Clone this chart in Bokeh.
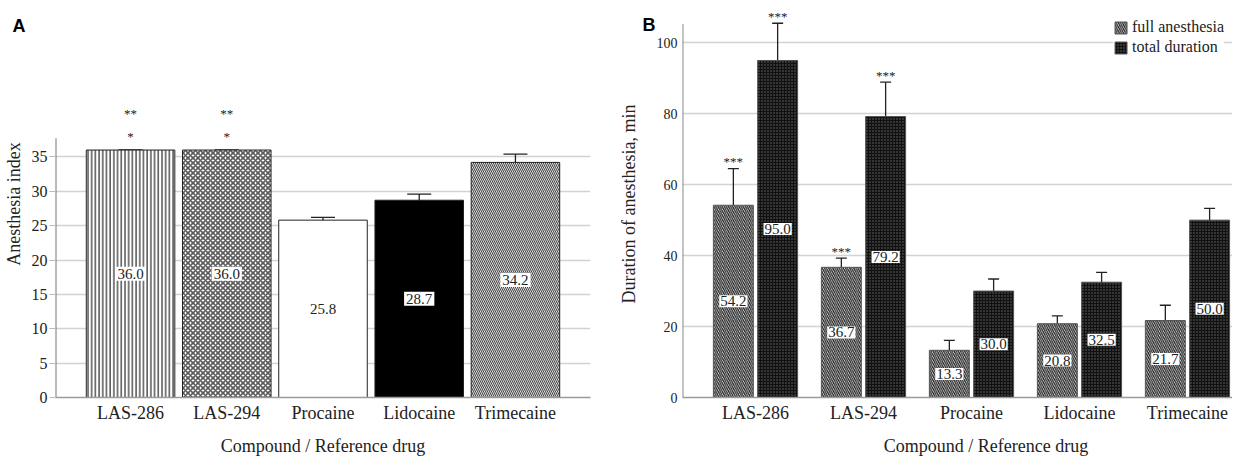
from bokeh.plotting import figure
from bokeh.models import (ColumnDataSource, FixedTicker, Whisker, TeeHead, LinearAxis,
                          Legend, LegendItem, Range1d)
from bokeh.layouts import row
from bokeh.embed import file_html
from bokeh.resources import INLINE
from bokeh.core.properties import value

# ---------------- data ----------------
compounds = ["LAS-286", "LAS-294", "Procaine", "Lidocaine", "Trimecaine"]

index_values = [36.0, 36.0, 25.8, 28.7, 34.2]
index_errors = [0.0, 0.0, 0.4, 0.9, 1.2]
index_stars_top = ["**", "**", "", "", ""]
index_stars_low = ["*", "*", "", "", ""]

full_values = [54.2, 36.7, 13.3, 20.8, 21.7]
full_errors = [10.3, 2.6, 2.8, 2.2, 4.3]
full_stars = ["***", "***", "", "", ""]

total_values = [95.0, 79.2, 30.0, 32.5, 50.0]
total_errors = [10.5, 9.7, 3.4, 2.8, 3.3]
total_stars = ["***", "***", "", "", ""]

y_ticks_a = [0, 5, 10, 15, 20, 25, 30, 35]
y_ticks_b = [0, 20, 40, 60, 80, 100]

series_names = ["full anesthesia", "total duration"]
x_title = "Compound / Reference drug"
y_title_a = "Anesthesia index"
y_title_b = "Duration of anesthesia, min"
panel_letters = ["A", "B"]

# ---------------- styles ----------------
a_fills = ["white", "white", "white", "black", "white"]
a_hatches = ["vertical_line", "diagonal_cross", "blank", "blank", "left_diagonal_line"]
a_hatch_colors = ["black", "#5a5a5a", "black", "black", "#444444"]
a_hatch_scales = [3.7, 5.0, 4.0, 4.0, 4.0]
a_hatch_weights = [1.0, 1.6, 1.0, 1.0, 1.1]

SERIF = "Liberation Serif"
SANS = "Liberation Sans"
GRID = "#d2d2d2"
H = 458
TOP = 10
BOTTOM = 60


def style_common(p, y_ticks, ytick_size):
    p.background_fill_color = "white"
    p.border_fill_color = "white"
    p.outline_line_color = None
    p.xgrid.grid_line_color = None
    p.ygrid.grid_line_color = GRID
    p.ygrid.grid_line_width = 1.5
    p.yaxis.ticker = FixedTicker(ticks=y_ticks)
    p.ygrid.ticker = FixedTicker(ticks=y_ticks)
    p.xaxis.ticker = FixedTicker(ticks=list(range(len(compounds))))
    p.xaxis.major_label_overrides = {i: c for i, c in enumerate(compounds)}
    for ax in (p.xaxis[0], p.yaxis[0]):
        ax.minor_tick_line_color = None
        ax.minor_tick_out = 0
        ax.axis_label_text_font = SERIF
        ax.axis_label_text_font_style = "normal"
        ax.axis_label_text_font_size = "18px"
        ax.axis_label_text_color = "#222222"
        ax.major_label_text_font = SERIF
        ax.major_label_text_color = "#222222"
    p.xaxis.major_label_text_font_size = "18px"
    p.yaxis.major_label_text_font_size = ytick_size
    p.xaxis.major_tick_line_color = None
    p.xaxis.major_tick_out = 0
    p.xaxis.major_tick_in = 0
    p.xaxis.axis_line_color = "#9a9a9a"
    p.xaxis.axis_line_width = 1.5
    p.xaxis.major_label_standoff = 5
    p.yaxis.axis_line_color = None


def text_axis(tick, text, font, size, style, standoff, color="#222222"):
    """An axis without line or ticks that only carries one text (title / panel letter)."""
    return LinearAxis(ticker=FixedTicker(ticks=[tick]),
                      major_label_overrides={tick: text},
                      axis_line_color=None, major_tick_line_color=None,
                      minor_tick_line_color=None, major_tick_out=0, major_tick_in=0,
                      minor_tick_out=0, minor_tick_in=0,
                      major_label_standoff=standoff, major_label_text_font=font,
                      major_label_text_font_style=style, major_label_text_font_size=size,
                      major_label_text_color=color)


# ---------------- panel A ----------------
xa0, xa1 = -0.78, 4.78
pa = figure(width=613, height=H, x_range=Range1d(xa0, xa1), y_range=Range1d(0, 56.3),
            output_backend="svg", toolbar_location=None,
            min_border_left=54, min_border_right=23, min_border_top=TOP,
            min_border_bottom=BOTTOM)
style_common(pa, y_ticks_a, "16px")
pa.xaxis.axis_label = x_title
pa.xaxis.axis_label_standoff = 10
pa.yaxis.axis_label = y_title_a
pa.yaxis.axis_label_standoff = 5
pa.yaxis.major_tick_out = 6
pa.yaxis.major_tick_in = 0
pa.yaxis.major_tick_line_color = "#bbbbbb"
pa.yaxis.major_label_standoff = 2
pa.add_layout(text_axis(54, panel_letters[0], SANS, "18px", "bold", -25, "black"), "left")

src_a = ColumnDataSource(dict(
    x=list(range(len(compounds))),
    top=index_values,
    upper=[v + e for v, e in zip(index_values, index_errors)],
    lower=[v - e for v, e in zip(index_values, index_errors)],
    mid=[v / 2 for v in index_values],
    label=[f"{v:.1f}" for v in index_values],
    stars_top=index_stars_top,
    stars_low=index_stars_low,
    fill=a_fills, hatch=a_hatches, hcolor=a_hatch_colors,
    hscale=a_hatch_scales, hweight=a_hatch_weights,
))

pa.segment(x0=[xa0], y0=[0], x1=[xa0], y1=[37.7], line_color="#777777", line_width=2)
pa.vbar(x="x", top="top", width=0.92, source=src_a, fill_color="fill",
        hatch_pattern="hatch", hatch_color="hcolor", hatch_scale="hscale",
        hatch_weight="hweight", line_color="#222222", line_width=1)
pa.add_layout(Whisker(source=src_a, base="x", upper="upper", lower="lower",
                      line_color="#222222", line_width=1.3,
                      upper_head=TeeHead(size=24, line_color="#222222", line_width=1.3),
                      lower_head=TeeHead(size=24, line_color="#222222", line_width=1.3)))
pa.text(x="x", y="mid", text="label", source=src_a, text_align="center",
        text_baseline="middle", text_font=value(SERIF), text_font_size="15px",
        text_color="#222222", background_fill_color="white", padding=2)
pa.text(x="x", y="upper", text="stars_low", source=src_a, text_align="center",
        text_baseline="middle", text_font=value(SERIF), text_font_size="13px",
        text_color="#222222", y_offset=-14)
pa.text(x="x", y="upper", text="stars_top", source=src_a, text_align="center",
        text_baseline="middle", text_font=value(SERIF), text_font_size="13px",
        text_color="#222222", y_offset=-37)

# ---------------- panel B ----------------
xb0, xb1 = -0.676, 4.417
pb = figure(width=619, height=H, x_range=Range1d(xb0, xb1), y_range=Range1d(0, 109.1),
            output_backend="svg", toolbar_location=None,
            min_border_left=69, min_border_right=0, min_border_top=TOP,
            min_border_bottom=BOTTOM)
style_common(pb, y_ticks_b, "14px")
pb.yaxis.axis_label = y_title_b
pb.yaxis.axis_label_standoff = 15
pb.yaxis.major_tick_line_color = None
pb.yaxis.major_tick_out = 0
pb.yaxis.major_tick_in = 0
pb.yaxis.major_label_standoff = 5
pb.add_layout(text_axis(105, panel_letters[1], SANS, "18px", "bold", -40, "black"), "left")
pb.add_layout(text_axis(2.135, x_title, SERIF, "18px", "normal", 10), "below")

off = 0.205
bw = 0.37
idx = list(range(len(compounds)))
src_full = ColumnDataSource(dict(
    x=[i - off for i in idx], top=full_values,
    upper=[v + e for v, e in zip(full_values, full_errors)],
    lower=[v - e for v, e in zip(full_values, full_errors)],
    mid=[v / 2 for v in full_values],
    label=[f"{v:.1f}" for v in full_values],
    stars=full_stars,
))
src_total = ColumnDataSource(dict(
    x=[i + off for i in idx], top=total_values,
    upper=[v + e for v, e in zip(total_values, total_errors)],
    lower=[v - e for v, e in zip(total_values, total_errors)],
    mid=[v / 2 for v in total_values],
    label=[f"{v:.1f}" for v in total_values],
    stars=total_stars,
))

pb.segment(x0=[xb0], y0=[0], x1=[xb0], y1=[105.3], line_color="#888888", line_width=2)
r_full = pb.vbar(x="x", top="top", width=bw, source=src_full, fill_color="white",
                 hatch_pattern="left_diagonal_line", hatch_color="#222222",
                 hatch_scale=4.2, hatch_weight=1.3, line_color="#555555", line_width=1)
r_total = pb.vbar(x="x", top="top", width=bw, source=src_total, fill_color="#111111",
                  hatch_pattern="dot", hatch_color="#6a6a6a", hatch_scale=3,
                  hatch_weight=1, line_color="#555555", line_width=1)
for src in (src_full, src_total):
    pb.add_layout(Whisker(source=src, base="x", upper="upper", lower="lower",
                          line_color="#222222", line_width=1.3,
                          upper_head=TeeHead(size=11, line_color="#222222", line_width=1.3),
                          lower_head=TeeHead(size=11, line_color="#222222", line_width=1.3)))
    pb.text(x="x", y="mid", text="label", source=src, text_align="center",
            text_baseline="middle", text_font=value(SERIF), text_font_size="15px",
            text_color="#222222", background_fill_color="white", padding=1)
    pb.text(x="x", y="upper", text="stars", source=src, text_align="center",
            text_baseline="middle", text_font=value(SERIF), text_font_size="13px",
            text_color="#222222", y_offset=-7)

legend = Legend(items=[LegendItem(label=series_names[0], renderers=[r_full]),
                       LegendItem(label=series_names[1], renderers=[r_total])],
                location="top_right", margin=8, padding=3, spacing=2,
                glyph_width=15, glyph_height=15, label_standoff=4,
                label_text_font=SERIF, label_text_font_size="16px",
                label_text_color="#222222", label_height=16,
                background_fill_color="white", background_fill_alpha=1.0,
                border_line_color=None)
pb.add_layout(legend)

layout = row(pa, pb)
open("out.html", "w").write(file_html(layout, INLINE))
